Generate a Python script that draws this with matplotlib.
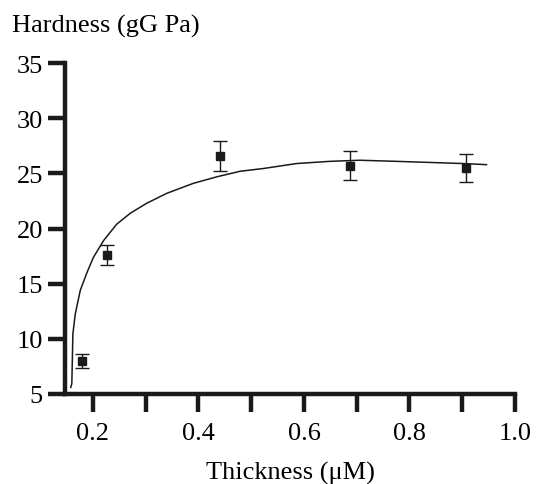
import numpy as np
import matplotlib.pyplot as plt

plt.rcParams['font.family'] = ['Liberation Serif', 'DejaVu Serif']

# --- measured points (thickness in uM, hardness in GPa) ---
thick = [0.180, 0.227, 0.44, 0.687, 0.907]
hard = [8.0, 17.6, 26.6, 25.7, 25.5]
err = [0.6, 0.93, 1.35, 1.3, 1.25]

# --- fitted curve ---
fit_x = [0.158, 0.160, 0.162, 0.1665, 0.176, 0.1886, 0.201, 0.220, 0.245, 0.271,
         0.302, 0.340, 0.390, 0.435, 0.479, 0.523, 0.586, 0.649, 0.706, 0.775,
         0.839, 0.902, 0.946]
fit_y = [5.6, 5.95, 10.45, 12.25, 14.4, 16.0, 17.4, 18.9, 20.4, 21.4,
         22.3, 23.2, 24.1, 24.7, 25.2, 25.45, 25.9, 26.1, 26.2, 26.1,
         26.0, 25.9, 25.8]

fig = plt.figure(figsize=(5.37, 4.85), dpi=100)
ax = fig.add_axes([0.121, 0.1856, 0.838, 0.682])

ax.plot(fit_x, fit_y, color='#1a1a1a', lw=1.1)
ax.errorbar(thick, hard, yerr=err, fmt='s', color='#1a1a1a', ms=5.5,
            elinewidth=1.0, capsize=5, capthick=1.0)

ax.set_xlim(0.147, 1.0)
ax.set_ylim(5, 35)
ax.set_xticks(np.arange(0.2, 1.01, 0.1))
ax.set_xticklabels(['0.2', '', '0.4', '', '0.6', '', '0.8', '', '1.0'])
ax.set_yticks([5, 10, 15, 20, 25, 30, 35])

for s in ['top', 'right']:
    ax.spines[s].set_visible(False)
for s in ['left', 'bottom']:
    ax.spines[s].set_linewidth(3.2)
    ax.spines[s].set_color('#1a1a1a')

ax.tick_params(axis='y', direction='out', length=12, width=3.2, labelsize=19, pad=4, color='#1a1a1a')
ax.tick_params(axis='x', direction='out', length=13, width=3.2, labelsize=19, pad=7, color='#1a1a1a')

ax.set_xlabel('Thickness (μM)', fontsize=19, labelpad=12)
fig.text(0.022, 1 - 33 / 485, 'Hardness (gG Pa)', fontsize=19, va='baseline', ha='left')

fig.savefig('out.png', dpi=100)
